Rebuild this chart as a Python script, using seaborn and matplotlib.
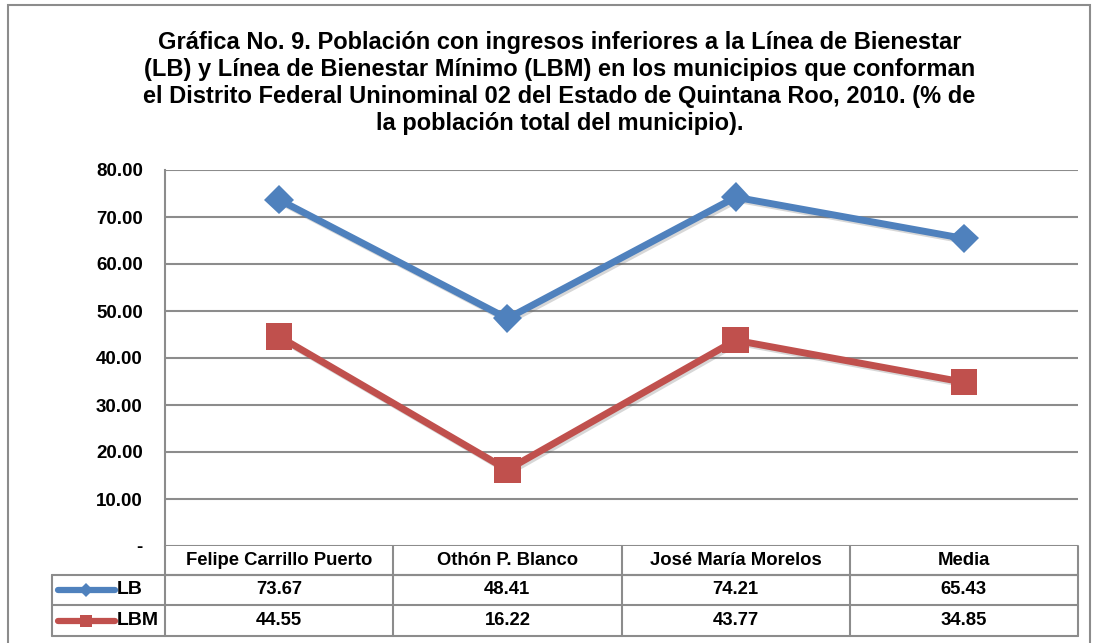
import pandas as pd
import numpy as np
import matplotlib.pyplot as plt
import matplotlib.patheffects as pe
from matplotlib.patches import Rectangle
from matplotlib.lines import Line2D
import seaborn as sns

# Datos
municipios = ['Felipe Carrillo Puerto', 'Othón P. Blanco', 'José María Morelos', 'Media']
lb = [73.67, 48.41, 74.21, 65.43]
lbm = [44.55, 16.22, 43.77, 34.85]
series = ['LB', 'LBM']
colores = {'LB': '#4F81BD', 'LBM': '#C0504D'}
marcadores = {'LB': 'D', 'LBM': 's'}
tamanos = {'LB': 15, 'LBM': 19}
yticks = [0, 10, 20, 30, 40, 50, 60, 70, 80]
ytick_labels = ['-'] + [f'{v:.2f}' for v in yticks[1:]]

titulo = ('Gráfica No. 9. Población con ingresos inferiores a la Línea de Bienestar\n'
          '(LB) y Línea de Bienestar Mínimo (LBM) en los municipios que conforman\n'
          'el Distrito Federal Uninominal 02 del Estado de Quintana Roo, 2010. (% de\n'
          'la población total del municipio).')

df = pd.DataFrame({
    'municipio': municipios * 2,
    'x': list(range(len(municipios))) * 2,
    'valor': lb + lbm,
    'serie': ['LB'] * len(lb) + ['LBM'] * len(lbm),
})

sns.set_style('white')
plt.rcParams['font.family'] = ['Liberation Sans', 'DejaVu Sans']
plt.rcParams['font.weight'] = 'bold'
plt.rcParams['text.color'] = 'black'
plt.rcParams['ytick.color'] = 'black'

fig = plt.figure(figsize=(10.95, 6.43), dpi=100)
ax = fig.add_axes([165 / 1095, 1 - 546 / 643, 913 / 1095, 376 / 643])

# Marco exterior
fig.patches.append(Rectangle((8 / 1095, -0.05), 1082 / 1095, 1.05 - 5 / 643,
                             transform=fig.transFigure, fill=False,
                             edgecolor='#8c8c8c', linewidth=1.5))

sombra = [pe.SimpleLineShadow(offset=(1.5, -1.5), alpha=0.25, shadow_color='#606060'), pe.Normal()]
for s in series:
    sns.lineplot(data=df[df['serie'] == s], x='x', y='valor', color=colores[s],
                 marker=marcadores[s], markersize=tamanos[s], markeredgewidth=0,
                 linewidth=5, legend=False, ax=ax, zorder=3)
for ln in ax.lines:
    ln.set_path_effects(sombra)

ax.set_xlim(-0.5, len(municipios) - 0.5)
ax.set_ylim(0, 80)
ax.set_yticks(yticks)
ax.set_yticklabels(ytick_labels, fontsize=13.5, fontweight='bold', color='black')
ax.tick_params(axis='y', length=0, pad=16)
ax.set_xticks([])
ax.set_xlabel('')
ax.set_ylabel('')
ax.grid(axis='y', color='#8c8c8c', linewidth=1.5)
ax.set_axisbelow(True)
for side in ['top', 'right', 'bottom']:
    ax.spines[side].set_visible(False)
ax.spines['left'].set_color('#8c8c8c')
ax.spines['left'].set_linewidth(1.5)

# Tabla de datos debajo del gráfico
trans = ax.get_xaxis_transform()
row_edges = [0, -29 / 376, -59 / 376, -90 / 376]
w = 113 / 913 * len(municipios)
label_left = -0.5 - w
gray = dict(color='#8c8c8c', linewidth=1.5, clip_on=False, transform=trans)

# lineas horizontales
ax.add_line(Line2D([-0.5, 3.5], [row_edges[1]] * 2, **gray))
for yy in row_edges[1:]:
    ax.add_line(Line2D([label_left, 3.5], [yy] * 2, **gray))
# lineas verticales
for xx in np.arange(-0.5, len(municipios), 1.0):
    ax.add_line(Line2D([xx, xx], [0, row_edges[-1]], **gray))
ax.add_line(Line2D([label_left, label_left], [row_edges[1], row_edges[-1]], **gray))

for i, m in enumerate(municipios):
    ax.text(i, (row_edges[0] + row_edges[1]) / 2, m, transform=trans, ha='center',
            va='center', fontsize=13.3, fontweight='bold')
for r, (s, vals) in enumerate(zip(series, [lb, lbm])):
    yc = (row_edges[r + 1] + row_edges[r + 2]) / 2
    for i, v in enumerate(vals):
        ax.text(i, yc, f'{v:.2f}', transform=trans, ha='center', va='center',
                fontsize=13.3, fontweight='bold')
    x0 = label_left + w * 0.05
    x1 = label_left + w * 0.56
    ax.add_line(Line2D([x0, (x0 + x1) / 2, x1], [yc, yc, yc], color=colores[s],
                       linewidth=4.5, marker=marcadores[s], markevery=[1],
                       markersize=tamanos[s] * 0.45, markeredgewidth=0,
                       solid_capstyle='round', transform=trans, clip_on=False))
    ax.text(x1 + w * 0.01, yc, s, transform=trans, ha='left', va='center',
            fontsize=14, fontweight='bold')

fig.text(0.511, 1 - 31 / 643, titulo, ha='center', va='top', fontsize=17,
         fontweight='bold', linespacing=1.22)

fig.savefig('out.png', dpi=100)
